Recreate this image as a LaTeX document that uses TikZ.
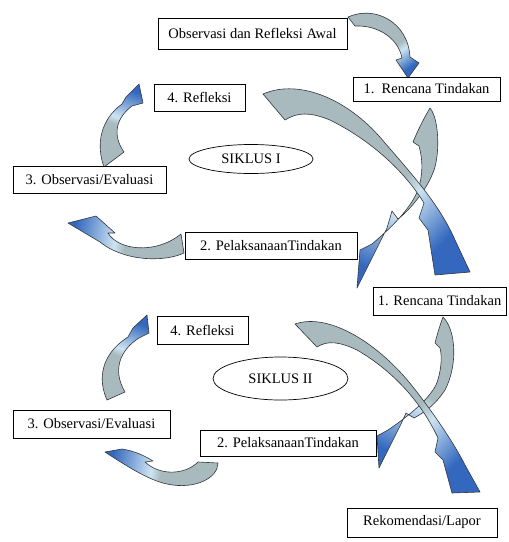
\documentclass[tikz,border=0pt]{standalone}
\usepackage{fontspec}
\setmainfont{Liberation Serif}
\usetikzlibrary{shapes.geometric}
\definecolor{ag}{RGB}{168,186,190}
\definecolor{al}{RGB}{205,228,242}
\definecolor{ab}{RGB}{52,104,190}
\definecolor{aline}{RGB}{50,55,60}
\pgfdeclarehorizontalshading{arrsh}{100bp}{color(0bp)=(ag); color(25bp)=(ag); color(50bp)=(ag); color(55bp)=(al); color(75bp)=(ab); color(100bp)=(ab)}
\pgfdeclarehorizontalshading{arrshlate}{100bp}{color(0bp)=(ag); color(25bp)=(ag); color(57bp)=(ag); color(62bp)=(al); color(75bp)=(ab); color(100bp)=(ab)}
\newcommand\boxfnt{\fontsize{14.5}{17}\selectfont}
\tikzset{
  box/.style={draw=black,line width=0.7pt,fill=white,inner sep=0pt,font=\boxfnt},
  oval/.style={ellipse,draw=black,line width=0.7pt,fill=white,inner sep=0pt,font=\boxfnt},
  arrowbody/.style={shade,shading=arrsh,draw=aline,line width=0.6pt,line join=round},
  arrowlate/.style={shade,shading=arrshlate,draw=aline,line width=0.6pt,line join=round},
}
\begin{document}
\begin{tikzpicture}[x=1pt,y=-1pt]
\useasboundingbox (0,0) rectangle (509,542);
% ---------- arrows, cycle I ----------
% A: start -> 1. Rencana
\path[arrowlate,shading angle=-55] (348,17) .. controls (375,5) and (408,22) .. (410,57) -- (419,63) -- (408,78) -- (396,60) -- (402,58) .. controls (398,38) and (378,25) .. (355,26) -- cycle;
% B: 1 -> 2
\path[arrowbody,shading angle=-112] (430,108) .. controls (440,120) and (440,160) .. (432,175) .. controls (426,190) and (410,210) .. (398,219) -- (392,211) -- (387,228) -- (357,288) -- (360,250) -- (372,244) .. controls (398,222) and (412,205) .. (418,190) .. controls (423,175) and (423,160) .. (419,146) -- (413,142) .. controls (418,130) and (424,118) .. (430,108) -- cycle;
% C: 2 -> 3
\path[arrowbody,shading angle=170] (181,234) -- (184,253) .. controls (165,262) and (125,262) .. (100,242) -- (68,223) -- (96,216) -- (115,233) -- (108,233) .. controls (118,250) and (155,255) .. (181,234) -- cycle;
% D: 3 -> 4
\path[arrowbody,shading angle=71] (104,167) .. controls (96,145) and (100,120) .. (122,104) -- (126,97) -- (139,84) -- (143,103) -- (132,106) .. controls (116,118) and (112,135) .. (124,152) -- cycle;
% E: 4 -> next cycle
\path[arrowlate,shading angle=-43] (263,94) .. controls (300,78) and (350,100) .. (385,143) .. controls (410,172) and (440,205) .. (455,240) -- (470,272) -- (435,275) -- (428,230) -- (419,218) -- (424,203) .. controls (410,180) and (380,145) .. (330,120) .. controls (310,112) and (298,112) .. (285,120) -- cycle;
% ---------- arrows, cycle II ----------
% F: 1 -> 2
\path[arrowbody,shading angle=-113] (443,317) .. controls (456,330) and (458,365) .. (445,390) .. controls (435,405) and (425,412) .. (414,418) -- (406,413) -- (401,424) -- (379,468) -- (377,436) -- (388,430) .. controls (410,415) and (428,400) .. (436,385) .. controls (442,370) and (442,355) .. (440,348) -- (435,343) .. controls (437,335) and (440,325) .. (443,317) -- cycle;
% G: 2 -> 3
\path[arrowbody,shading angle=170] (198,462) -- (218,463) .. controls (218,478) and (195,490) .. (167,484) .. controls (148,480) and (125,465) .. (105,452) -- (122,449) .. controls (135,451) and (145,456) .. (153,461) -- (145,462) .. controls (160,476) and (185,475) .. (198,462) -- cycle;
% H: 3 -> 4
\path[arrowbody,shading angle=69] (107,400) .. controls (98,380) and (100,355) .. (128,337) -- (133,328) -- (147,315) -- (149,333) -- (139,338) .. controls (120,350) and (112,370) .. (125,392) -- cycle;
% I: 4 -> Rekomendasi
\path[arrowlate,shading angle=-44] (295,324) .. controls (330,312) and (380,345) .. (413,387) .. controls (435,415) and (455,445) .. (465,465) -- (480,492) -- (452,493) -- (443,460) -- (435,452) -- (438,438) .. controls (425,410) and (400,375) .. (357,350) .. controls (340,342) and (328,340) .. (317,347) -- cycle;
% ---------- nodes ----------
\node[box,minimum width=189pt,minimum height=31pt] (obs0) at (252.5,33.5) {Observasi dan Refleksi Awal};
\node[box,minimum width=147pt,minimum height=24pt] (ren1) at (426.5,89) {1.\enspace Rencana Tindakan};
\node[box,minimum width=91pt,minimum height=27pt] (ref1) at (199.5,97.5) {4. Refleksi};
\node[box,minimum width=153pt,minimum height=27pt] (ev1) at (89.5,179.5) {3. Observasi/Evaluasi};
\node[oval,minimum width=124pt,minimum height=29pt] (sik1) at (251,159) {SIKLUS I};
\node[box,minimum width=172pt,minimum height=27pt] (pel1) at (271,245.5) {2. PelaksanaanTindakan};
\node[box,minimum width=133pt,minimum height=28pt] (ren2) at (439.5,301) {1. Rencana Tindakan};
\node[box,minimum width=91pt,minimum height=28pt] (ref2) at (202.5,330) {4. Refleksi};
\node[oval,minimum width=135pt,minimum height=43pt] (sik2) at (280.5,378.5) {SIKLUS II};
\node[box,minimum width=157pt,minimum height=28pt] (ev2) at (91.5,424) {3. Observasi/Evaluasi};
\node[box,minimum width=176pt,minimum height=26pt] (pel2) at (288,443) {2. PelaksanaanTindakan};
\node[box,minimum width=150pt,minimum height=29pt] (rek) at (422,522.5) {Rekomendasi/Lapor};
\end{tikzpicture}
\end{document}
